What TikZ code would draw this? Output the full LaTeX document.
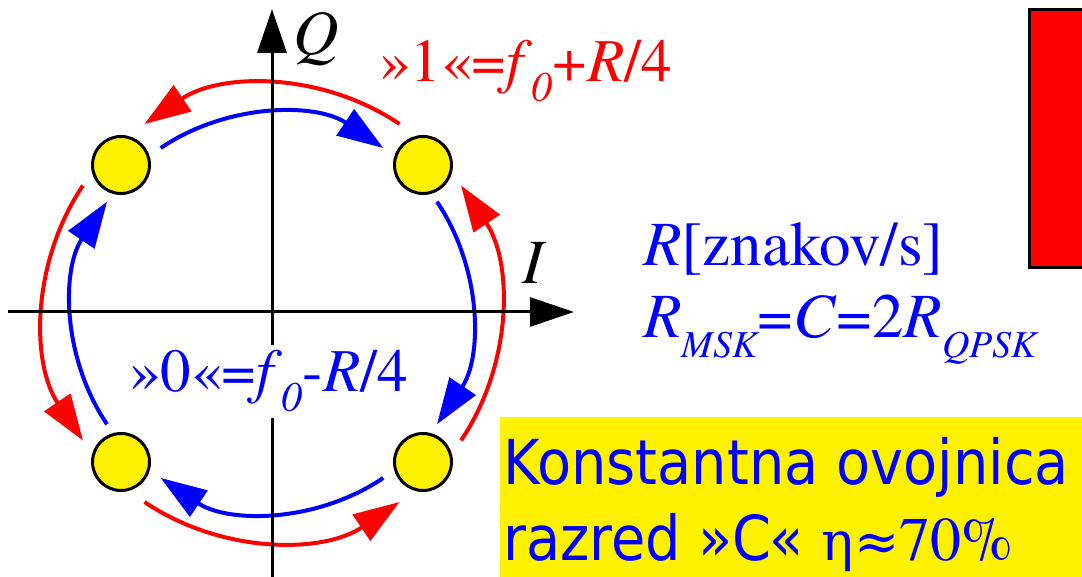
\documentclass[tikz,border=0pt]{standalone}
\usepackage{fontspec}
\setmainfont{texgyretermes}[Extension=.otf, UprightFont=*-regular, ItalicFont=*-italic, BoldFont=*-bold, BoldItalicFont=*-bolditalic]
\newfontfamily\dejaser{DejaVu Serif}
\newfontfamily\tahoma[FakeStretch=0.9]{DejaVu Sans}
\usetikzlibrary{arrows.meta}

% lowered italic index, size given as first argument
\newcommand\lowsub[2]{\raisebox{-20pt}{\fontsize{#1}{#1}\selectfont\itshape #2}}

\tikzset{
  dot/.style={circle, draw, line width=3pt, fill=yellow, minimum size=57pt, inner sep=0pt},
  axis/.style={line width=3pt, -{Triangle[length=44pt,width=29pt]}},
  redarc/.style={red, line width=4pt, -{Triangle[length=46pt,width=31pt]}},
  bluearc/.style={blue, line width=4pt, -{Triangle[length=46pt,width=31pt]}},
  big/.style={font=\fontsize{63}{70}\selectfont, inner sep=0pt, anchor=base west},
  freq/.style={big, font=\fontsize{61}{70}\selectfont}
}

\begin{document}
\begin{tikzpicture}[x=1pt,y=1pt]
\useasboundingbox (0,0) rectangle (1082,577);
\clip (0,0) rectangle (1082,577);

% centre of the constellation
\coordinate (O) at (272,264);

% red block at the right edge (cut by the border)
\draw[fill=red, line width=3pt] (1029.5,309.5) rectangle (1100,567.5);

% yellow box at the bottom
\fill[yellow] (500,0) rectangle (1082,160);

% the four symbols
\node[dot] (s1) at (423,412) {};
\node[dot] (s2) at (121,412) {};
\node[dot] (s3) at (121,115) {};
\node[dot] (s4) at (423,115) {};

% red arcs, counter-clockwise ("1")
\foreach \a/\b in {56/124, 146/214, 236/304, -34/34}
  \draw[redarc] ([shift={(\a:228pt)}]O) arc (\a:\b:228pt);

% blue arcs, clockwise ("0")
\foreach \a/\b in {124/56, 214/146, 304/236, 34/-34}
  \draw[bluearc] ([shift={(\a:199pt)}]O) arc (\a:\b:199pt);

% axes on top
\coordinate (xl) at (8,265);
\coordinate (xr) at (574,265);
\coordinate (yb) at (272,0);
\coordinate (yt) at (272,568);
\draw[axis] (xl) -- (xr);
\draw[axis] (yb) -- (yt);
\node[big] (qlab) at (293,522) {\textit{Q}};
\node[big] (ilab) at (522,293) {\textit{I}};

% frequencies
\node[freq, red] (one) at (380,495) {»1«=\textit{f}\lowsub{42}{0}+\textit{R}/4};
\node[freq, blue, fill=white, inner sep=6pt] (zero) at (124,185) {»0«=\textit{f}\lowsub{42}{0}-\textit{R}/4};

% rates
\node[big, blue] (rate) at (643,311) {\textit{R}[znakov/s]};
\node[big, blue] (rel) at (643,239) {\textit{R}\lowsub{38}{MSK}=\textit{C}=2\textit{R}\lowsub{38}{QPSK}};

% text in the yellow box
\node[anchor=base west, blue, inner sep=0pt, font=\tahoma\fontsize{62}{62}\selectfont] (konst) at (503,92) {Konstantna ovojnica};
\node[anchor=base west, blue, inner sep=0pt, font=\tahoma\fontsize{62}{62}\selectfont] (razred) at (503,16) {razred »C« {\dejaser\fontsize{54}{54}\selectfont η≈}{\rmfamily 70\%}};

\end{tikzpicture}
\end{document}
